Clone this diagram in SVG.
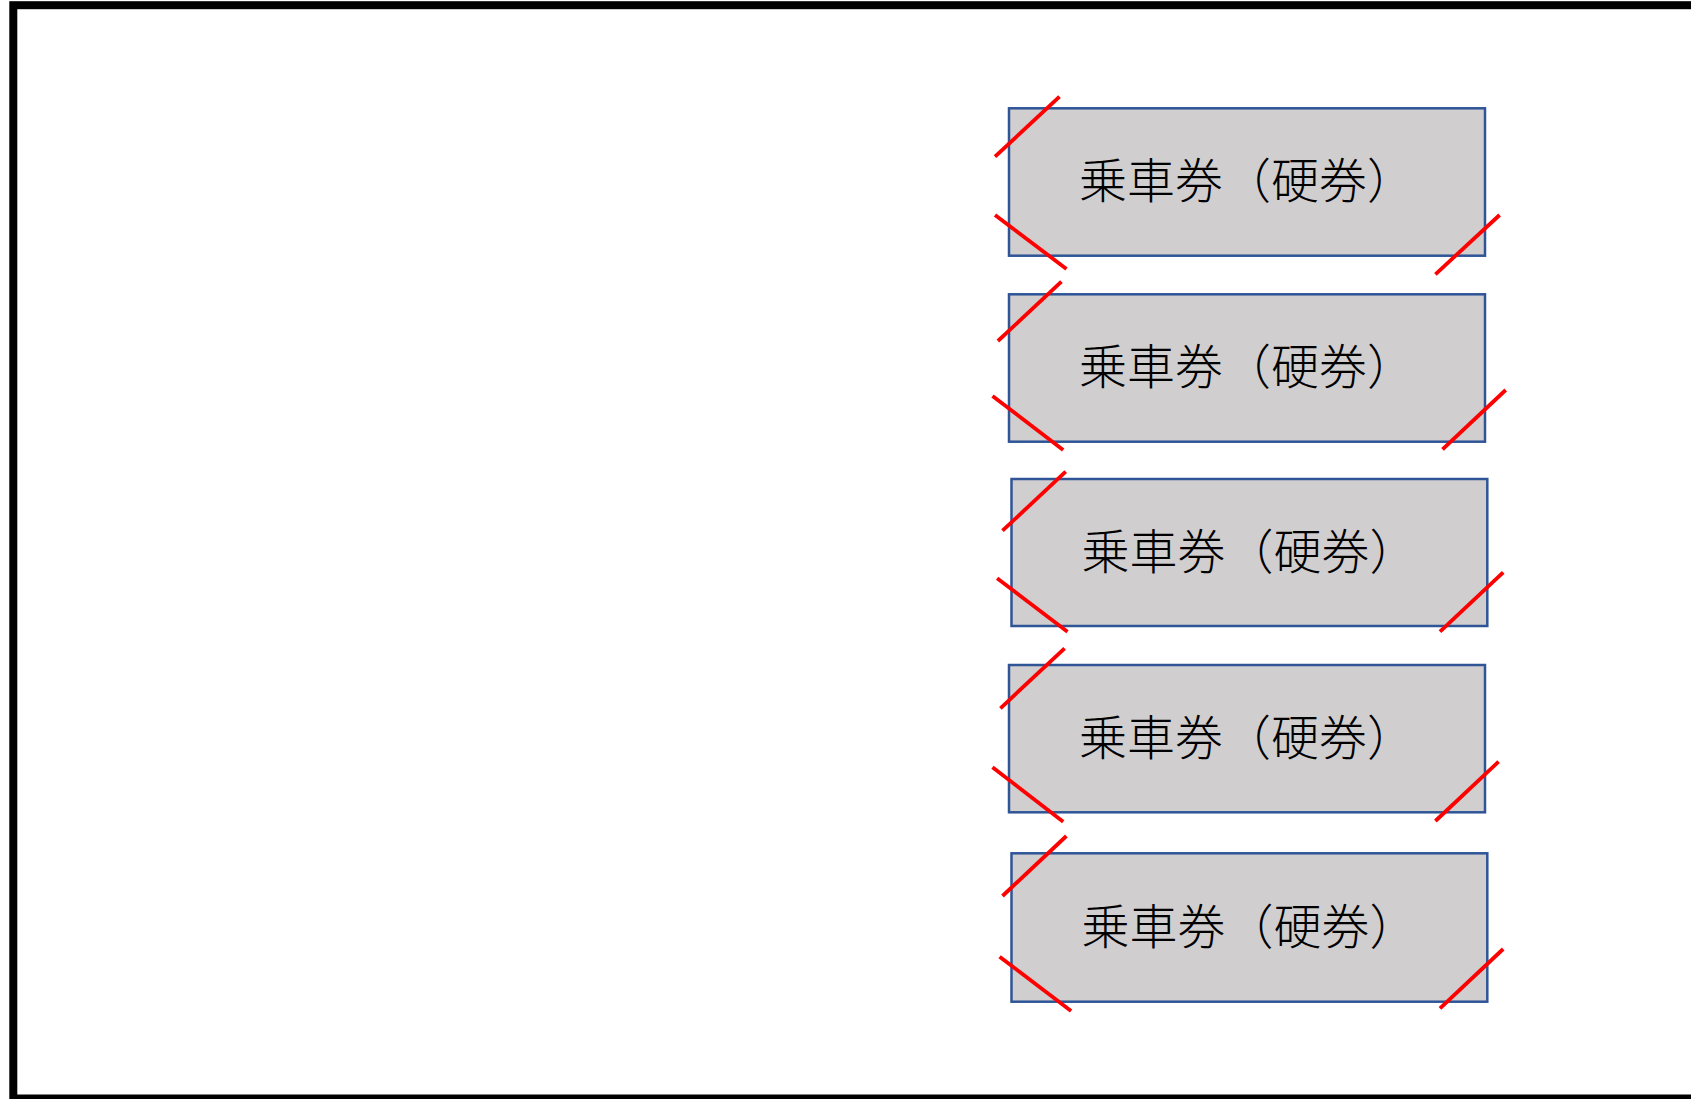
<svg xmlns="http://www.w3.org/2000/svg" width="1691" height="1099" viewBox="0 0 1691 1099">
<style>
.box{fill:#D0CECE;stroke:#2F5597;stroke-width:2.5}
.lbl{font-family:"Noto Sans CJK JP","Noto Sans CJK SC",sans-serif;font-size:48px;font-weight:300;fill:#000}
.cut{stroke:#FF0000;stroke-width:3.8;fill:none}
</style>
<rect x="13.3" y="5.2" width="1700" height="1093.3" fill="#FFFFFF" stroke="#000000" stroke-width="8"/>
<g id="ticket1">
<rect class="box" x="1009" y="108.3" width="476" height="147.4"/>
<text class="lbl" x="1079 1127 1175 1223 1271 1319 1367" y="198">乗車券（硬券）</text>
</g>
<g id="ticket2">
<rect class="box" x="1009" y="294.3" width="476" height="147.4"/>
<text class="lbl" x="1079 1127 1175 1223 1271 1319 1367" y="384">乗車券（硬券）</text>
</g>
<g id="ticket3">
<rect class="box" x="1011.5" y="479" width="475.8" height="147"/>
<text class="lbl" x="1081.4 1129.4 1177.4 1225.4 1273.4 1321.4 1369.4" y="568.5">乗車券（硬券）</text>
</g>
<g id="ticket4">
<rect class="box" x="1009" y="665" width="476" height="147.3"/>
<text class="lbl" x="1079 1127 1175 1223 1271 1319 1367" y="754.7">乗車券（硬券）</text>
</g>
<g id="ticket5">
<rect class="box" x="1011.5" y="853.3" width="475.8" height="148.4"/>
<text class="lbl" x="1081.4 1129.4 1177.4 1225.4 1273.4 1321.4 1369.4" y="943.5">乗車券（硬券）</text>
</g>
<g id="connectors">
<line class="cut" x1="995" y1="156.7" x2="1059.5" y2="96.7"/>
<line class="cut" x1="995" y1="215" x2="1066.5" y2="269"/>
<line class="cut" x1="1435.4" y1="274.3" x2="1499.6" y2="215"/>
<line class="cut" x1="997.9" y1="341" x2="1061.4" y2="281.7"/>
<line class="cut" x1="992.5" y1="396" x2="1063.2" y2="450"/>
<line class="cut" x1="1442.5" y1="449.3" x2="1505.7" y2="390"/>
<line class="cut" x1="1002.5" y1="530.7" x2="1065.7" y2="471.7"/>
<line class="cut" x1="997.1" y1="578.3" x2="1067.5" y2="631.7"/>
<line class="cut" x1="1440" y1="631.7" x2="1503.2" y2="572.3"/>
<line class="cut" x1="1000.4" y1="708.3" x2="1064.6" y2="648.3"/>
<line class="cut" x1="992.5" y1="767.3" x2="1063.2" y2="821.7"/>
<line class="cut" x1="1435.4" y1="821" x2="1498.6" y2="761.7"/>
<line class="cut" x1="1002.5" y1="896" x2="1066.4" y2="836"/>
<line class="cut" x1="999.6" y1="956.7" x2="1071.1" y2="1011"/>
<line class="cut" x1="1440" y1="1008.3" x2="1503.2" y2="949"/>
</g>
</svg>
